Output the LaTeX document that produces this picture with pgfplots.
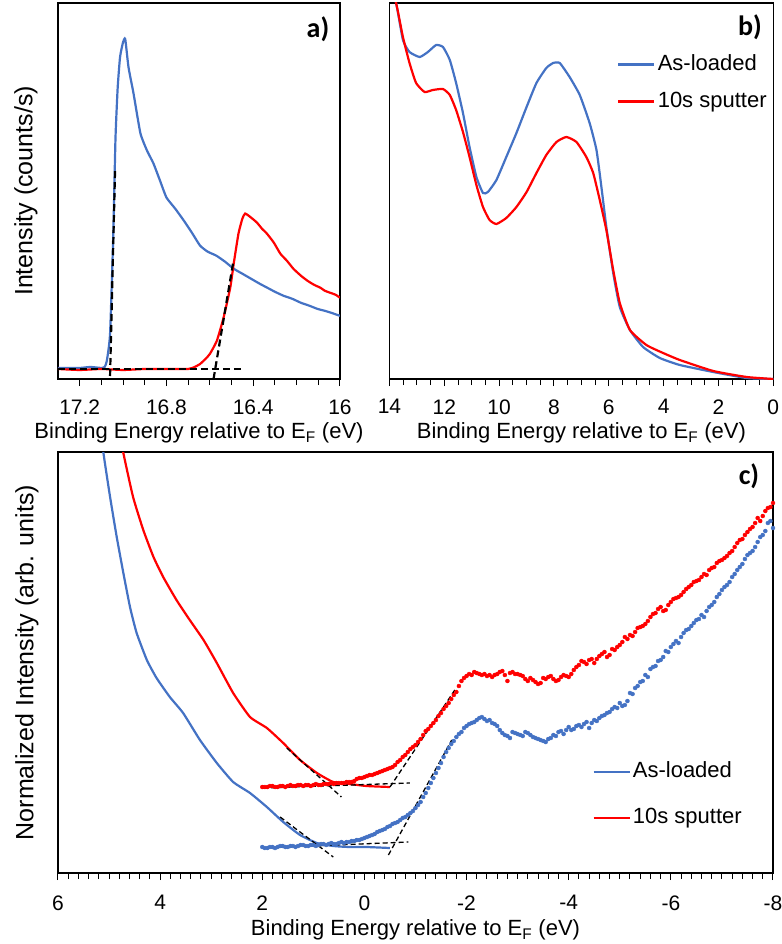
\documentclass[border=0pt]{standalone}
\usepackage{pgfplots}
\pgfplotsset{compat=1.18}
\usepackage{fontspec}
\setmainfont{Liberation Sans}
\newfontfamily\calibri{Carlito}
\definecolor{myblue}{HTML}{4472C4}
\definecolor{myred}{HTML}{FF0000}
\pgfplotsset{
 mystyle/.style={
  scale only axis, anchor=north west,
  axis line style={line width=1.2pt},
  x dir=reverse,
  ytick=\empty,
  xtick pos=left,
  tick align=outside,
  major tick length=7pt, minor tick length=6pt,
  every tick/.style={black, line width=1pt},
  /pgf/number format/assume math mode=true,
  tick label style={font=\fontsize{21}{24}\selectfont},
  xticklabel style={yshift=-10pt},
  xlabel style={font=\fontsize{22}{25}\selectfont, at={(axis description cs:0.5,0)}, anchor=center},
  ylabel style={font=\fontsize{25}{29}\selectfont, at={(axis description cs:0,0.5)}, anchor=center},
  legend style={draw=none, fill=none, font=\fontsize{22}{25}\selectfont, inner sep=0pt,
     nodes={inner sep=2pt, text height=16pt, text depth=5pt}},
  legend cell align=left,
  legend image code/.code={\draw[#1, line width=2.6pt] (0pt,0pt) -- (36pt,0pt);},
 },
 bl/.style={myblue, line width=2.2pt, smooth, tension=0.3},
 rd/.style={myred, line width=2.2pt, smooth, tension=0.3},
 dsa/.style={black, line width=2.2pt, dash pattern=on 7pt off 4pt},
 dsc/.style={forget plot, black, line width=1.3pt, dash pattern=on 5pt off 3pt},
}
\begin{document}
\begin{tikzpicture}
\useasboundingbox (0,0) rectangle (781pt,-944pt);
% ---------------- panel a
\begin{axis}[mystyle, at={(58pt,-3pt)}, width=282pt, height=376pt,
  xmin=16, xmax=17.3, ymin=0, ymax=375,
  xtick={16,16.4,16.8,17.2}, minor tick num=3,
  xlabel={Binding Energy relative to E\textsubscript{F} (eV)},
  xlabel style={yshift=-54pt},
  ylabel={Intensity (counts/s)}, ylabel style={yshift=32pt}]
\addplot[bl] coordinates {
(17.3,11) (17.25,11) (17.2,11) (17.15,12) (17.1,11) (17.085,12) (17.075,18) (17.06,45)
(17.045,145) (17.035,240) (17.025,290) (17.014,321) (17.0,336) (16.99,339) (16.975,311)
(16.952,285) (16.92,245) (16.89,228) (16.86,215) (16.83,198) (16.8,181) (16.76,170) (16.72,158)
(16.68,145) (16.645,133) (16.61,127) (16.57,123) (16.53,117) (16.49,110) (16.45,105) (16.41,100)
(16.37,95) (16.335,91) (16.3,87) (16.26,83) (16.22,80) (16.18,76) (16.14,73) (16.105,70)
(16.07,68) (16.04,66) (16.0,63)};
\addplot[rd] coordinates {
(17.3,10) (17.2,9) (17.1,10) (17.0,9) (16.9,10) (16.8,10) (16.7,10) (16.67,12) (16.645,15)
(16.62,20) (16.6,25) (16.568,38) (16.537,61) (16.506,91) (16.49,115) (16.468,145) (16.45,160)
(16.437,165) (16.41,161) (16.383,156) (16.36,150) (16.337,145) (16.305,136) (16.275,125)
(16.245,118) (16.215,110) (16.18,103) (16.15,98) (16.12,94) (16.09,91) (16.07,88) (16.045,86)
(16.02,84) (16.0,81)};
\addplot[dsa] coordinates {(17.3,10) (16.45,10)};
\addplot[dsa] coordinates {(17.06,3) (17.037,208)};
\addplot[dsa] coordinates {(16.583,0) (16.491,118)};
\end{axis}
\node[font=\calibri\bfseries\fontsize{28}{32}\selectfont] at (318pt,-29pt) {a)};
% ---------------- panel b
\begin{axis}[mystyle, at={(389.5pt,-3pt)}, width=383.8pt, height=376pt,
  xmin=0, xmax=14, ymin=0, ymax=376,
  xtick={0,2,...,14}, minor tick num=3,
  xlabel={Binding Energy relative to E\textsubscript{F} (eV)},
  xlabel style={yshift=-54pt},
  legend style={at={(axis description cs:0.5927,0.87)}, anchor=north west, row sep=12pt}]
\addplot[bl] coordinates {
(14.2,420) (13.76,376) (13.51,339) (13.27,327) (12.9,322) (12.6,327) (12.3,334) (12.05,332)
(11.8,319) (11.57,296) (11.32,266) (11.08,232) (10.83,202) (10.59,186) (10.41,187) (10.1,199)
(9.74,222) (9.37,246) (9.0,272) (8.64,296) (8.28,311) (8.03,316) (7.79,316) (7.43,302)
(7.06,284) (6.7,256) (6.45,229) (6.27,192) (6.09,152) (5.84,106) (5.6,72) (5.23,49) (4.75,32)
(4.14,21) (3.41,14) (2.19,7) (0.97,1) (0,0)};
\addlegendentry{As-loaded}
\addplot[rd] coordinates {
(14.2,420) (13.76,376) (13.51,342) (13.27,316) (13.03,296) (12.72,287) (12.42,289) (12.05,290)
(11.8,284) (11.57,269) (11.32,247) (11.08,222) (10.83,194) (10.59,172) (10.35,159) (10.1,155)
(9.74,161) (9.37,172) (9.0,187) (8.64,206) (8.28,224) (7.91,237) (7.55,242) (7.18,237)
(6.82,222) (6.57,206) (6.33,179) (6.09,149) (5.84,109) (5.6,76) (5.23,49) (4.63,34) (4.02,26)
(3.41,19) (2.19,8) (0.97,2) (0,0)};
\addlegendentry{10s sputter}
\end{axis}
\node[font=\calibri\bfseries\fontsize{28}{32}\selectfont] at (750pt,-27pt) {b)};
% ---------------- panel c
\begin{axis}[mystyle, at={(58pt,-452pt)}, width=715pt, height=421pt,
  xmin=-8, xmax=6, ymin=0, ymax=421,
  xtick={-8,-6,...,6}, minor tick num=9,
  xticklabel style={yshift=-2pt},
  xlabel={Binding Energy relative to E\textsubscript{F} (eV)},
  xlabel style={yshift=-57pt},
  ylabel={Normalized Intensity (arb. units)}, ylabel style={yshift=31pt},
  legend style={at={(axis description cs:0.747,0.27)}, anchor=north west, row sep=21pt}]
\addplot[forget plot, only marks, mark=*, mark size=2pt, myblue] coordinates {
(2.0,26) (1.95,25) (1.9,25) (1.85,26) (1.8,26) (1.75,25) (1.7,26) (1.65,27) (1.6,27) (1.55,26) (1.5,26)
(1.45,27) (1.4,27) (1.35,26) (1.3,27) (1.25,28) (1.2,28) (1.15,27) (1.1,27) (1.05,28)
(1.0,28) (0.95,27) (0.9,28) (0.85,29) (0.8,29) (0.75,28) (0.7,29) (0.65,30) (0.6,29) (0.55,29) (0.5,30)
(0.45,31) (0.4,30) (0.35,31) (0.3,31) (0.25,32) (0.2,32) (0.15,33) (0.1,33) (0.05,34)
(0.0,35) (-0.05,36) (-0.1,37) (-0.15,38) (-0.2,39) (-0.25,41) (-0.3,42) (-0.35,43) (-0.4,44) (-0.45,46)
(-0.5,47) (-0.55,49) (-0.6,50) (-0.65,51) (-0.7,53) (-0.75,55) (-0.8,56) (-0.85,58) (-0.9,60) (-0.95,62)
(-1.0,65) (-1.05,68) (-1.1,71) (-1.15,76) (-1.2,80) (-1.25,85) (-1.3,90) (-1.35,95) (-1.4,100) (-1.45,105)
(-1.5,110) (-1.55,116) (-1.6,121) (-1.65,125) (-1.7,129) (-1.75,132) (-1.8,136) (-1.85,139) (-1.9,141) (-1.95,145)
(-2.0,147) (-2.05,149) (-2.1,150) (-2.15,151) (-2.2,153) (-2.25,155) (-2.3,156) (-2.35,154) (-2.4,152) (-2.45,153)
(-2.5,150) (-2.55,149) (-2.6,147) (-2.65,143) (-2.7,140) (-2.75,138) (-2.8,137) (-2.85,135) (-2.9,141) (-2.95,140)
(-3.0,139) (-3.05,138) (-3.1,137) (-3.15,141) (-3.2,140) (-3.25,138) (-3.3,136) (-3.35,135) (-3.4,134) (-3.45,133)
(-3.5,132) (-3.55,131) (-3.6,134) (-3.65,135) (-3.7,138) (-3.75,137) (-3.8,141) (-3.85,142) (-3.9,139) (-3.95,143)
(-4.0,146) (-4.1,144) (-4.2,148) (-4.3,149) (-4.4,145) (-4.5,153) (-4.6,155) (-4.7,158) (-4.8,161) (-4.9,166)
(-5.0,170) (-5.1,168) (-5.2,180) (-5.3,185) (-5.4,191) (-5.5,198) (-5.6,204) (-5.7,207) (-5.8,213) (-5.9,222)
(-6.0,226) (-6.1,232) (-6.2,236) (-6.3,243) (-6.4,247) (-6.5,253) (-6.6,258) (-6.7,262) (-6.8,268) (-6.9,276)
(-7.0,283) (-7.1,288) (-7.2,296) (-7.3,303) (-7.4,309) (-7.5,318) (-7.6,322) (-7.7,331) (-7.8,338) (-7.9,350)
(-8.0,345)
(-4.05,143) (-4.15,147) (-4.25,146) (-4.35,151) (-4.45,150) (-4.55,152) (-4.65,157) (-4.75,160) (-4.85,164) (-4.95,165)
(-5.05,167) (-5.15,172) (-5.25,179) (-5.35,187) (-5.45,192) (-5.55,196) (-5.65,206) (-5.75,212) (-5.85,216) (-5.95,221)
(-6.05,229) (-6.15,230) (-6.25,240) (-6.35,244) (-6.45,250) (-6.55,254) (-6.65,256) (-6.75,266) (-6.85,271) (-6.95,279)
(-7.05,286) (-7.15,291) (-7.25,299) (-7.35,306) (-7.45,314) (-7.55,320) (-7.65,326) (-7.75,336) (-7.85,342) (-7.95,352)};
\addplot[forget plot, only marks, mark=*, mark size=2pt, myred] coordinates {
(2.0,86) (1.95,86) (1.9,86) (1.85,87) (1.8,87) (1.75,86) (1.7,86) (1.65,87) (1.6,87) (1.55,86) (1.5,87)
(1.45,88) (1.4,87) (1.35,87) (1.3,88) (1.25,88) (1.2,87) (1.15,88) (1.1,88) (1.05,87)
(1.0,88) (0.95,89) (0.9,88) (0.85,88) (0.8,89) (0.75,89) (0.7,89) (0.65,90) (0.6,89) (0.55,90) (0.5,90)
(0.45,90) (0.4,90) (0.35,91) (0.3,91) (0.25,91) (0.2,92) (0.15,94) (0.1,95) (0.05,95)
(0.0,96) (-0.05,97) (-0.1,98) (-0.15,98) (-0.2,99) (-0.25,100) (-0.3,101) (-0.35,102) (-0.4,103) (-0.45,104)
(-0.5,105) (-0.55,106) (-0.6,108) (-0.65,111) (-0.7,113) (-0.75,116) (-0.8,118) (-0.85,121) (-0.9,124) (-0.95,126)
(-1.0,128) (-1.05,131) (-1.1,134) (-1.15,138) (-1.2,142) (-1.25,144) (-1.3,147) (-1.35,150) (-1.4,153) (-1.45,157)
(-1.5,160) (-1.55,164) (-1.6,167) (-1.65,170) (-1.7,174) (-1.75,178) (-1.8,181) (-1.85,187) (-1.9,192) (-1.95,195)
(-2.0,197) (-2.05,199) (-2.1,198) (-2.15,201) (-2.2,200) (-2.25,199) (-2.3,198) (-2.35,199) (-2.4,197) (-2.45,198)
(-2.5,196) (-2.55,198) (-2.6,199) (-2.65,201) (-2.7,202) (-2.75,198) (-2.8,192) (-2.85,200) (-2.9,201) (-2.95,199)
(-3.0,199) (-3.05,198) (-3.1,197) (-3.15,194) (-3.2,192) (-3.25,195) (-3.3,193) (-3.35,191) (-3.4,189) (-3.45,190)
(-3.5,195) (-3.55,194) (-3.6,196) (-3.65,197) (-3.7,194) (-3.75,192) (-3.8,193) (-3.85,196) (-3.9,198) (-3.95,197)
(-4.0,196) (-4.1,203) (-4.2,208) (-4.3,211) (-4.4,213) (-4.5,210) (-4.6,217) (-4.7,221) (-4.8,218) (-4.9,223)
(-5.0,228) (-5.1,236) (-5.2,238) (-5.3,241) (-5.4,246) (-5.5,249) (-5.6,256) (-5.7,260) (-5.8,266) (-5.9,263)
(-6.0,271) (-6.1,275) (-6.2,278) (-6.3,284) (-6.4,288) (-6.5,292) (-6.6,296) (-6.7,298) (-6.8,305) (-6.9,310)
(-7.0,313) (-7.1,317) (-7.2,322) (-7.3,330) (-7.4,334) (-7.5,341) (-7.6,346) (-7.7,355) (-7.8,357) (-7.9,365)
(-8.0,370)
(-4.05,199) (-4.15,206) (-4.25,212) (-4.35,209) (-4.45,214) (-4.55,214) (-4.65,219) (-4.75,216) (-4.85,224) (-4.95,226)
(-5.05,231) (-5.15,234) (-5.25,237) (-5.35,245) (-5.45,247) (-5.55,252) (-5.65,259) (-5.75,264) (-5.85,262) (-5.95,268)
(-6.05,274) (-6.15,276) (-6.25,281) (-6.35,286) (-6.45,291) (-6.55,293) (-6.65,299) (-6.75,303) (-6.85,306) (-6.95,312)
(-7.05,315) (-7.15,320) (-7.25,326) (-7.35,333) (-7.45,338) (-7.55,344) (-7.65,350) (-7.75,352) (-7.85,362) (-7.95,366)};
\addplot[bl] coordinates {
(5.2,460) (5.11,420) (4.98,376) (4.85,336) (4.72,300) (4.59,266) (4.46,240) (4.26,213) (4.07,195)
(3.81,176) (3.55,160) (3.22,133) (2.89,110) (2.57,91) (2.24,80) (1.91,66) (1.59,51) (1.26,38)
(0.93,30) (0.61,27) (0.3,26) (-0.04,26) (-0.5,25)};
\addlegendentry{As-loaded}
\addplot[rd] coordinates {
(4.8,445) (4.72,420) (4.53,376) (4.33,343) (4.13,316) (3.94,296) (3.68,273) (3.42,253) (3.15,233)
(2.89,210) (2.57,180) (2.24,156) (1.91,145) (1.59,130) (1.26,113) (0.93,100) (0.61,91) (0.28,89)
(-0.04,87) (-0.5,86)};
\addlegendentry{10s sputter}
\addplot[dsc] coordinates {(1.99,85) (-0.89,90)};
\addplot[dsc] coordinates {(1.52,125) (0.45,76)};
\addplot[dsc] coordinates {(-0.5,86) (-1.77,183)};
\addplot[dsc] coordinates {(1.99,25) (-0.86,31)};
\addplot[dsc] coordinates {(1.65,56) (0.61,16)};
\addplot[dsc] coordinates {(-0.47,18) (-1.71,133)};
\end{axis}
\node[font=\calibri\bfseries\fontsize{28}{32}\selectfont] at (749pt,-476pt) {c)};
\end{tikzpicture}
\end{document}
